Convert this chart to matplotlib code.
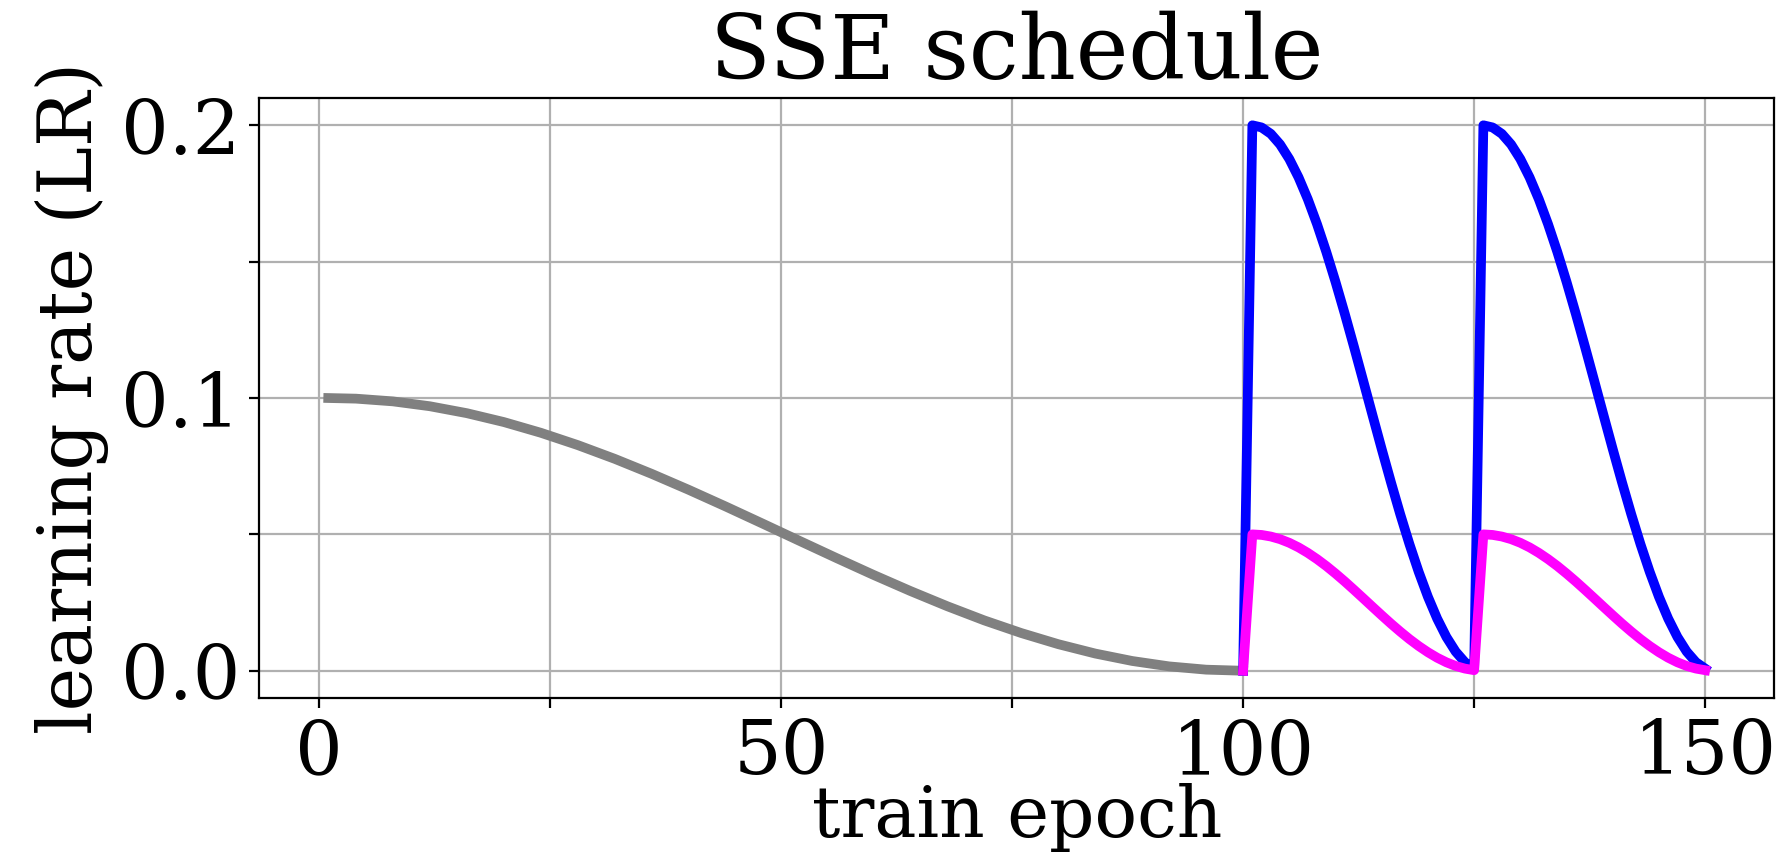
import matplotlib
matplotlib.use("Agg")
import matplotlib.pyplot as plt
from matplotlib.ticker import MultipleLocator

plt.rcParams['font.family'] = ['DejaVu Serif']

# --- data ---
# base cosine schedule (gray), epochs 1..100
base_epochs = [1, 4, 8, 12, 16, 20, 24, 28, 32, 36, 40, 44, 48,
               52, 56, 60, 64, 68, 72, 76, 80, 84, 88, 92, 96, 100]
base_lr = [0.10000, 0.09977, 0.09877, 0.09698, 0.09444, 0.09119, 0.08726,
           0.08274, 0.07770, 0.07220, 0.06635, 0.06024, 0.05396, 0.04762,
           0.04132, 0.03515, 0.02923, 0.02364, 0.01845, 0.01382, 0.00974,
           0.00631, 0.00358, 0.00160, 0.00040, 0.00000]

# SSE cycles, epochs 100..150 (restarts at 101 and 126)
sse_epochs = list(range(100, 151))
sse_high = [0.00000,
            0.20000, 0.19921, 0.19686, 0.19298, 0.18763, 0.18090, 0.17290,
            0.16374, 0.15358, 0.14258, 0.13090, 0.11874, 0.10628, 0.09372,
            0.08126, 0.06910, 0.05742, 0.04642, 0.03626, 0.02710, 0.01910,
            0.01237, 0.00702, 0.00314, 0.00079,
            0.20000, 0.19921, 0.19686, 0.19298, 0.18763, 0.18090, 0.17290,
            0.16374, 0.15358, 0.14258, 0.13090, 0.11874, 0.10628, 0.09372,
            0.08126, 0.06910, 0.05742, 0.04642, 0.03626, 0.02710, 0.01910,
            0.01237, 0.00702, 0.00314, 0.00079]
sse_low = [0.00000,
           0.05000, 0.04980, 0.04921, 0.04824, 0.04691, 0.04523, 0.04322,
           0.04093, 0.03840, 0.03564, 0.03273, 0.02968, 0.02657, 0.02343,
           0.02032, 0.01727, 0.01436, 0.01160, 0.00907, 0.00678, 0.00477,
           0.00309, 0.00176, 0.00079, 0.00020,
           0.05000, 0.04980, 0.04921, 0.04824, 0.04691, 0.04523, 0.04322,
           0.04093, 0.03840, 0.03564, 0.03273, 0.02968, 0.02657, 0.02343,
           0.02032, 0.01727, 0.01436, 0.01160, 0.00907, 0.00678, 0.00477,
           0.00309, 0.00176, 0.00079, 0.00020]

x_major = [0, 50, 100, 150]
y_major = [0.0, 0.1, 0.2]

fig = plt.figure(figsize=(8.92, 4.295), dpi=200)
ax = fig.add_axes([0.1454, 0.1874, 0.9944 - 0.1454, 0.8859 - 0.1874])

lw = 3.5
ax.plot(base_epochs, base_lr, color='#808080', lw=lw, solid_joinstyle='round')
ax.plot(sse_epochs, sse_high, color='blue', lw=lw, solid_joinstyle='round')
ax.plot(sse_epochs, sse_low, color='magenta', lw=lw, solid_joinstyle='round')

ax.set_xticks(x_major)
ax.set_yticks(y_major)
ax.xaxis.set_minor_locator(MultipleLocator(25))
ax.yaxis.set_minor_locator(MultipleLocator(0.05))
ax.tick_params(which='both', labelsize=27, length=3.5, width=0.8)
ax.grid(True, which='both', color='#b0b0b0', lw=0.8)
ax.set_axisbelow(True)

ax.set_xlabel('train epoch', fontsize=25.5, labelpad=-2.6)
ax.set_ylabel('learning rate (LR)', fontsize=26.5)
ax.set_title('SSE schedule', fontsize=32)

fig.savefig('out.png', dpi=200)
